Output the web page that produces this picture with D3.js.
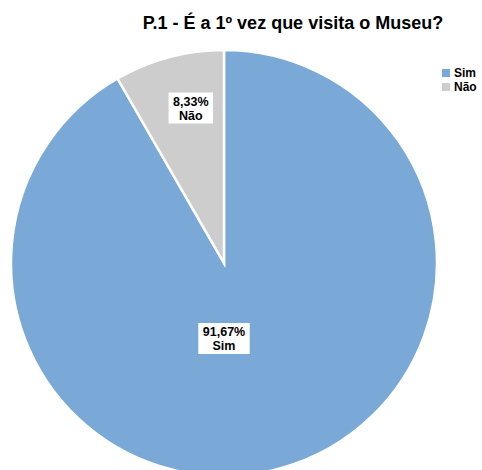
<!DOCTYPE html>
<html>
<head>
<meta charset="utf-8">
<script src="https://cdn.jsdelivr.net/npm/d3@7"></script>
<style>
  body { margin: 0; background: #fff; }
  text { font-family: Arial, "Liberation Sans", sans-serif; }
</style>
</head>
<body>
<script>
// data
var categories = ["Sim", "Não"];
var values = [91.67, 8.33];
var labels = ["91,67%", "8,33%"];
var colors = ["#7aa9d7", "#cdcdcd"];

var w = 482, h = 470;
var cx = 224, cy = 263, radius = 213;

var svg = d3.select("body").append("svg")
    .attr("width", w)
    .attr("height", h);

// title
svg.append("text")
    .attr("x", 293)
    .attr("y", 29)
    .attr("text-anchor", "middle")
    .style("font-size", "18px")
    .style("font-weight", "bold")
    .text("P.1 - É a 1º vez que visita o Museu?");

var pie = d3.pie().sort(null).value(function(d) { return d; });
var arcs = pie(values);

var arc = d3.arc().innerRadius(0).outerRadius(radius);

var chart = svg.append("g")
    .attr("transform", "translate(" + cx + "," + cy + ")");

chart.selectAll(".slice")
    .data(arcs)
    .enter()
        .append("path")
        .classed("slice", true)
        .attr("d", arc)
        .attr("fill", function(d, i) { return colors[i]; })
        .attr("stroke", "#fff")
        .attr("stroke-width", 2.5);

// label placement (big slice goes to bottom, small one near rim)
var labelPos = function(d) {
    var span = d.endAngle - d.startAngle;
    var a = span > Math.PI ? Math.PI : (d.startAngle + d.endAngle) / 2 + 0.05;
    var r = span > Math.PI ? 76 : 158;
    return [Math.sin(a) * r, -Math.cos(a) * r];
};

var lbl = chart.selectAll(".lbl")
    .data(arcs)
    .enter()
        .append("g")
        .classed("lbl", true)
        .attr("transform", function(d) {
            var p = labelPos(d);
            return "translate(" + p[0] + "," + p[1] + ")";
        });

lbl.each(function(d, i) {
    var g = d3.select(this);
    var box = g.append("rect").attr("fill", "#fff");
    var t1 = g.append("text")
        .attr("text-anchor", "middle")
        .attr("y", -3)
        .style("font-size", "12.5px")
        .style("font-weight", "bold")
        .text(labels[i]);
    g.append("text")
        .attr("text-anchor", "middle")
        .attr("y", 11)
        .style("font-size", "12.5px")
        .style("font-weight", "bold")
        .text(categories[i]);
    var bw = t1.node().getBBox().width + 9;
    box.attr("x", -bw / 2)
        .attr("y", -16)
        .attr("width", bw)
        .attr("height", 31);
});

// legend
var legend = svg.selectAll(".legend")
    .data(categories)
    .enter()
        .append("g")
        .classed("legend", true)
        .attr("transform", function(d, i) {
            return "translate(442," + (69 + i * 14) + ")";
        });

legend.append("rect")
    .attr("width", 8)
    .attr("height", 8)
    .attr("fill", function(d, i) { return colors[i]; });

legend.append("text")
    .attr("x", 12)
    .attr("y", 8)
    .style("font-size", "12px")
    .style("font-weight", "bold")
    .text(function(d) { return d; });
</script>
</body>
</html>
